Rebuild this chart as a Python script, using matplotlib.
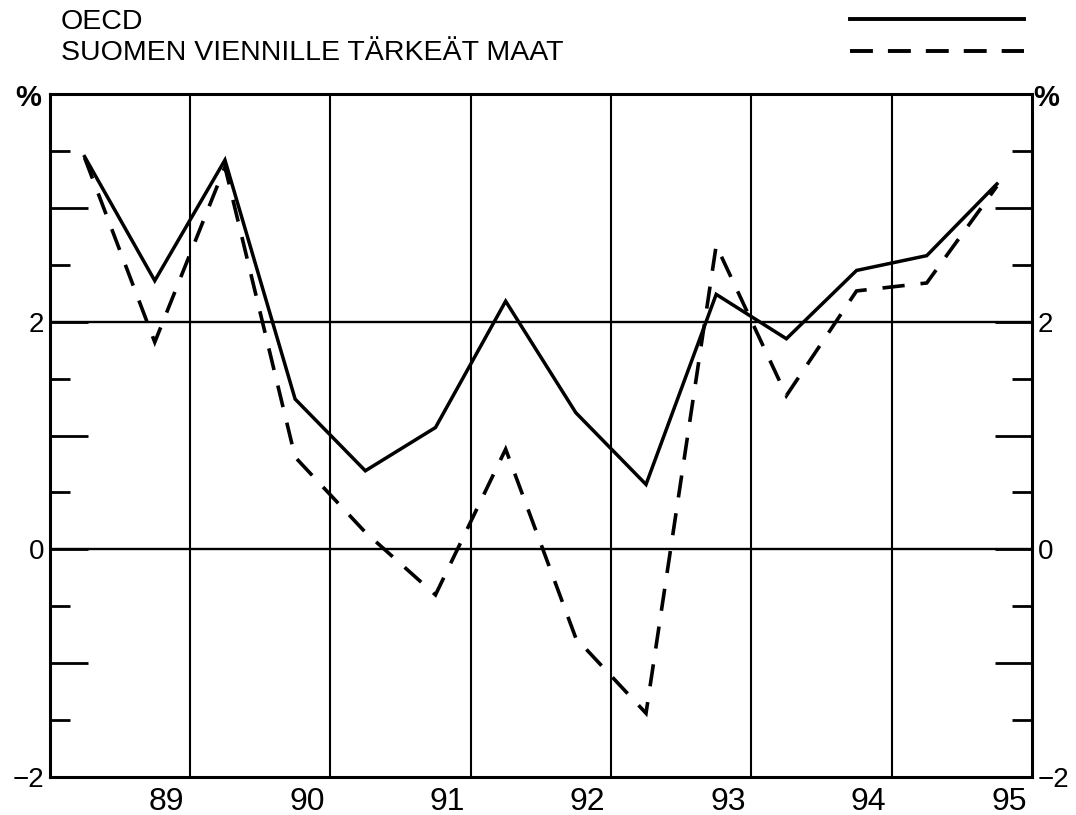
import matplotlib
matplotlib.use("Agg")
import matplotlib.pyplot as plt
from matplotlib.lines import Line2D
from matplotlib.ticker import FixedLocator, FixedFormatter, NullFormatter

# Half-year periods (yy/half) and growth rates, %
periods = ['89/1', '89/2', '90/1', '90/2', '91/1', '91/2', '92/1',
           '92/2', '93/1', '93/2', '94/1', '94/2', '95/1', '95/2']
oecd = [3.45, 2.36, 3.42, 1.32, 0.69, 1.07, 2.18,
        1.20, 0.57, 2.24, 1.85, 2.45, 2.58, 3.21]
export_markets = [3.44, 1.82, 3.36, 0.81, 0.15, -0.40, 0.88,
                  -0.78, -1.44, 2.67, 1.35, 2.27, 2.34, 3.19]

series_names = ['OECD', 'SUOMEN VIENNILLE TÄRKEÄT MAAT']
years = [1989, 1990, 1991, 1992, 1993, 1994, 1995]
year_labels = ['89', '90', '91', '92', '93', '94', '95']
y_values = [-2, -1, 0, 1, 2, 3, 4]
y_labels = ['\u22122', '', '0', '', '2', '', '']
unit_label = '%'


def period_x(p):
    yy, half = p.split('/')
    return 1900 + int(yy) + (0.25 if half == '1' else 0.75)


x = [period_x(p) for p in periods]

plt.rcParams['font.family'] = ['Liberation Sans', 'DejaVu Sans']
plt.rcParams['lines.scale_dashes'] = False

W, H = 1076, 815
fig = plt.figure(figsize=(W / 100, H / 100), dpi=100)
ax = fig.add_axes([49.5 / W, (H - 777) / H, (1032 - 49.5) / W, (777 - 94) / H])

ax.set_xlim(1989, 1996)
ax.set_ylim(-2, 4)

# grid
for yr in years[1:]:
    ax.axvline(yr, color='black', lw=1.5, zorder=1)
for gy in (0, 2):
    ax.axhline(gy, color='black', lw=1.7, zorder=1)

# series
ax.plot(x, oecd, color='black', lw=2.5, solid_joinstyle='miter', zorder=3)
ax.plot(x, export_markets, color='black', lw=2.6, dashes=(16, 11.5),
        dash_joinstyle='miter', zorder=3)

for s in ax.spines.values():
    s.set_linewidth(2.2)

# y axis: labels and ticks on both sides, pointing inward
ax.yaxis.set_major_locator(FixedLocator(y_values))
ax.yaxis.set_major_formatter(FixedFormatter(y_labels))
ax.yaxis.set_minor_locator(FixedLocator([-1.5, -0.5, 0.5, 1.5, 2.5, 3.5]))
ax.yaxis.set_minor_formatter(NullFormatter())
ax.tick_params(axis='y', which='major', direction='in', length=27, width=2.0,
               left=True, right=True, labelleft=True, labelright=True,
               labelsize=20, pad=4)
ax.tick_params(axis='y', which='minor', direction='in', length=14.5, width=2.0,
               left=True, right=True)

# unit sign at the top of both value axes
ax.annotate(unit_label, xy=(0, 1), xycoords='axes fraction', xytext=(-15.5, -3),
            textcoords='offset points', ha='center', va='center',
            fontsize=21, fontweight='bold')
ax.annotate(unit_label, xy=(1, 1), xycoords='axes fraction', xytext=(10.5, -3),
            textcoords='offset points', ha='center', va='center',
            fontsize=21, fontweight='bold')

# x axis: year labels toward the end of each year
ax.xaxis.set_major_locator(FixedLocator([yr + 0.835 for yr in years]))
ax.xaxis.set_major_formatter(FixedFormatter(year_labels))
ax.tick_params(axis='x', which='both', length=0, labelsize=23, pad=7)

# key above the plot
fig.text(61 / W, 1 - 29 / H, series_names[0], fontsize=20.5, va='baseline', ha='left')
fig.text(61 / W, 1 - 60 / H, series_names[1], fontsize=20.5, va='baseline', ha='left')
fig.add_artist(Line2D([850 / W, 1024 / W], [1 - 18.5 / H] * 2,
                      transform=fig.transFigure, color='black', lw=2.8))
fig.add_artist(Line2D([850 / W, 1024 / W], [1 - 51 / H] * 2,
                      transform=fig.transFigure, color='black', lw=2.8,
                      dashes=(16.5, 10.8)))

fig.savefig('out.png', dpi=100)
